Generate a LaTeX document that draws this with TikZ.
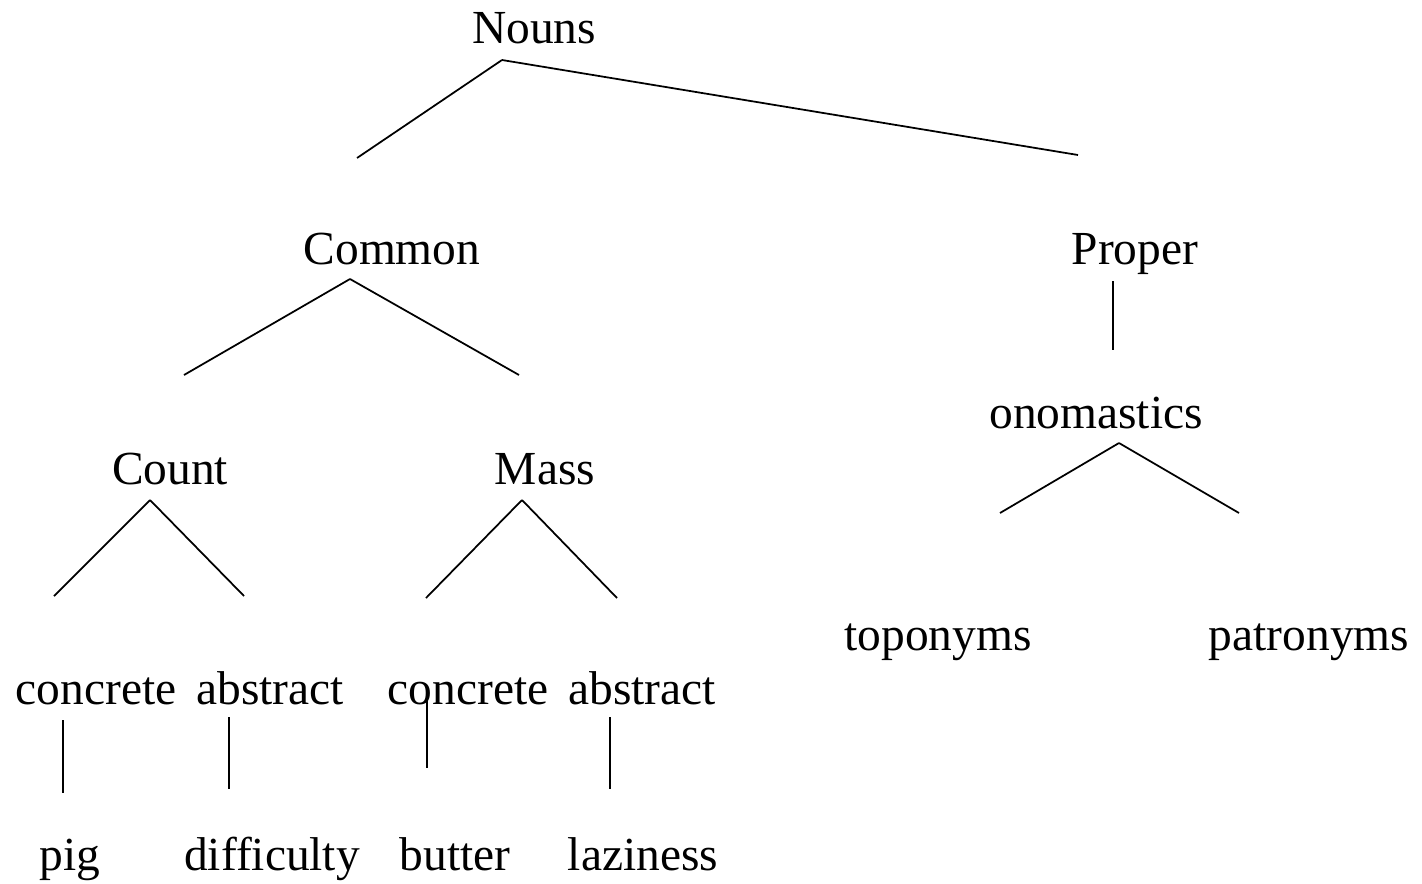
\documentclass[tikz,border=0pt]{standalone}
\usepackage{fontspec}
\setmainfont{Liberation Serif}

\begin{document}
\begin{tikzpicture}[x=0.02cm, y=-0.02cm, line width=1pt,
    lbl/.style={anchor=base, inner sep=0pt, font=\fontsize{27}{32}\selectfont}]
  \useasboundingbox (0,0) rectangle (1422,883);
  % word labels, placed by baseline
  \node[lbl] (nouns) at (534,43) {Nouns};
  \node[lbl] (common) at (392,264) {Common};
  \node[lbl] (proper) at (1135,264) {Proper};
  \node[lbl] (onom) at (1096,428) {onomastics};
  \node[lbl] (count) at (170,484) {Count};
  \node[lbl] (mass) at (545,484) {Mass};
  \node[lbl] (topo) at (938,650) {toponyms};
  \node[lbl] (patro) at (1309,650) {patronyms};
  \node[lbl] (cntconc) at (96,704) {concrete};
  \node[lbl] (cntabst) at (270,704) {abstract};
  \node[lbl] (msconc) at (468,704) {concrete};
  \node[lbl] (msabst) at (642,704) {abstract};
  \node[lbl] (pig) at (70,870) {pig};
  \node[lbl] (diff) at (272,870) {difficulty};
  \node[lbl] (butter) at (455,870) {butter};
  \node[lbl] (lazy) at (643,870) {laziness};
  % branch end points
  \coordinate (nouns-t) at (502,60);
  \coordinate (common-b) at (357,158);
  \coordinate (proper-b) at (1078,155);
  \coordinate (common-t) at (350,279);
  \coordinate (count-b) at (184,375);
  \coordinate (mass-b) at (519,375);
  \coordinate (proper-t) at (1113,281);
  \coordinate (onom-b) at (1113,350);
  \coordinate (count-t) at (150,500);
  \coordinate (cntconc-b) at (54,596);
  \coordinate (cntabst-b) at (244,596);
  \coordinate (mass-t) at (522,500);
  \coordinate (msconc-b) at (426,598);
  \coordinate (msabst-b) at (617,598);
  \coordinate (onom-t) at (1119,443);
  \coordinate (topo-b) at (1000,513);
  \coordinate (patro-b) at (1239,513);
  \coordinate (cntconc-t) at (63,720);
  \coordinate (pig-b) at (63,793);
  \coordinate (cntabst-t) at (229,717);
  \coordinate (diff-b) at (229,789);
  \coordinate (msconc-t) at (427,700);
  \coordinate (butter-b) at (427,768);
  \coordinate (msabst-t) at (610,717);
  \coordinate (lazy-b) at (610,789);
  % branches
  \foreach \a/\b in {nouns-t/common-b, nouns-t/proper-b,
      common-t/count-b, common-t/mass-b, proper-t/onom-b,
      count-t/cntconc-b, count-t/cntabst-b, mass-t/msconc-b, mass-t/msabst-b,
      onom-t/topo-b, onom-t/patro-b,
      cntconc-t/pig-b, cntabst-t/diff-b, msconc-t/butter-b, msabst-t/lazy-b}
    \draw (\a) -- (\b);
\end{tikzpicture}
\end{document}
